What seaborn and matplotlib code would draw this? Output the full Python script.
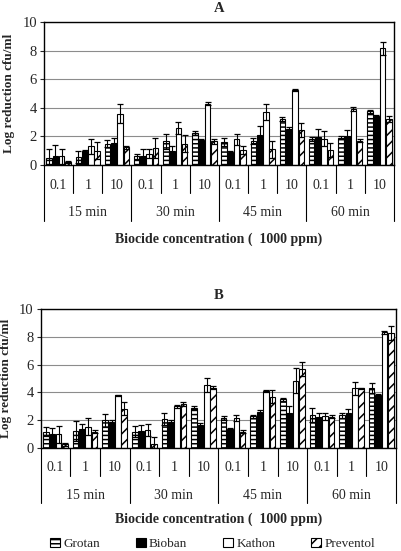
import matplotlib
matplotlib.use("Agg")
import matplotlib.pyplot as plt
import matplotlib.patches as mpatches
import pandas as pd
import seaborn as sns

times = ["15 min", "30 min", "45 min", "60 min"]
concs = ["0.1", "1", "10"]
biocides = ["Grotan", "Bioban", "Kathon", "Preventol"]

# panel A: log reduction, 12 values each (time x concentration)
a_grotan = [0.5, 0.55, 1.5, 0.6, 1.65, 2.25, 1.6, 1.7, 3.2, 1.8, 1.9, 3.75]
a_bioban = [0.6, 0.95, 1.55, 0.65, 0.95, 1.75, 0.9, 2.1, 2.55, 1.95, 2.05, 3.4]
a_kathon = [0.6, 1.3, 3.6, 0.8, 2.6, 4.3, 1.8, 3.7, 5.25, 1.85, 3.9, 8.15]
a_preventol = [0.2, 1.0, 1.25, 1.2, 1.5, 1.65, 1.05, 1.1, 2.45, 1.05, 1.7, 3.2]
a_grotan_err = [0.6, 0.4, 0.25, 0.15, 0.55, 0.15, 0.3, 0.2, 0.15, 0.15, 0.1, 0.1]
a_bioban_err = [0.8, 0.1, 0.35, 0.45, 0.4, 0.1, 0.1, 0.6, 0.1, 0.6, 0.4, 0.1]
a_kathon_err = [0.5, 0.5, 0.65, 0.3, 0.4, 0.1, 0.4, 0.55, 0.1, 0.5, 0.15, 0.45]
a_preventol_err = [0.05, 0.6, 0.1, 0.7, 0.6, 0.2, 0.3, 0.6, 0.5, 0.5, 0.1, 0.2]

# panel B
b_grotan = [1.2, 1.25, 2.0, 1.2, 2.1, 2.9, 2.15, 2.3, 3.5, 2.4, 2.35, 4.3]
b_bioban = [1.05, 1.35, 1.9, 1.25, 1.9, 1.7, 1.35, 2.6, 2.5, 2.25, 2.5, 3.8]
b_kathon = [1.0, 1.55, 3.8, 1.3, 3.0, 4.55, 2.15, 4.1, 4.85, 2.3, 4.3, 8.3]
b_preventol = [0.3, 1.2, 2.85, 0.3, 3.2, 4.35, 1.2, 3.7, 5.7, 2.25, 4.3, 8.25]
b_grotan_err = [0.35, 0.7, 0.45, 0.4, 0.4, 0.1, 0.15, 0.1, 0.1, 0.5, 0.2, 0.35]
b_bioban_err = [0.4, 0.4, 0.1, 0.4, 0.1, 0.1, 0.1, 0.15, 0.5, 0.3, 0.3, 0.1]
b_kathon_err = [0.6, 0.6, 0.05, 0.45, 0.1, 0.5, 0.2, 0.05, 0.9, 0.25, 0.45, 0.1]
b_preventol_err = [0.1, 0.1, 0.5, 0.5, 0.15, 0.1, 0.1, 0.45, 0.5, 0.1, 0.05, 0.5]

sns.set_theme(style="ticks")
plt.rcParams["font.family"] = ["Liberation Serif", "DejaVu Serif"]
plt.rcParams["hatch.linewidth"] = 1.1
plt.rcParams["hatch.color"] = "black"

faces = {"Grotan": "white", "Bioban": "black", "Kathon": "white", "Preventol": "white"}
hatches = {"Grotan": "----", "Bioban": "", "Kathon": "", "Preventol": "///"}
slots = [t + "|" + c for t in times for c in concs]


def make_df(values, errors):
    rows = []
    for b, vals, errs in zip(biocides, values, errors):
        for s, v, e in zip(slots, vals, errs):
            rows.append({"slot": s, "biocide": b, "value": v, "err": e})
    return pd.DataFrame(rows)


def draw_panel(ax, df, title, lab):
    sns.barplot(data=df, x="slot", y="value", hue="biocide", order=slots,
                hue_order=biocides, palette=faces, edgecolor="black",
                linewidth=0.8, width=0.86, gap=0.12, errorbar=None,
                legend=False, ax=ax)
    for cont, b in zip(ax.containers, biocides):
        sub = df[df["biocide"] == b]
        xs = [p.get_x() + p.get_width() / 2 for p in cont]
        for p in cont:
            p.set_hatch(hatches[b])
        ax.errorbar(xs, sub["value"], yerr=sub["err"], fmt="none",
                    ecolor="black", elinewidth=0.8, capsize=2.5, capthick=0.9)

    ax.set_ylim(0, 10)
    ax.set_yticks([0, 2, 4, 6, 8, 10])
    ax.set_xlim(-0.5, len(slots) - 0.5)
    ax.set_xticks([])
    ax.set_xlabel("")
    ax.yaxis.grid(True, color="#8c8c8c", lw=0.8)
    ax.set_axisbelow(True)
    for sp in ax.spines.values():
        sp.set_visible(True)
        sp.set_color("black")
        sp.set_linewidth(1.0)
    ax.tick_params(axis="y", length=3, width=0.8, labelsize=10.5, pad=2)
    ax.set_ylabel("Log reduction cfu/ml", fontsize=9.5, fontweight="bold",
                  labelpad=5)
    ax.set_title(title, fontsize=10.5, fontweight="bold", pad=7)

    tr = ax.get_xaxis_transform()
    for i, s in enumerate(slots):
        t, c = s.split("|")
        ax.text(i, -0.14, c, transform=tr, ha="center", va="center", fontsize=10)
    for k, t in enumerate(times):
        ax.text(3 * k + 1, -0.335, t, transform=tr, ha="center", va="center",
                fontsize=10)
    for i in range(len(slots) + 1):
        low = -0.39 if i % 3 == 0 else -0.195
        ax.plot([i - 0.5, i - 0.5], [0, low], transform=tr, color="black",
                lw=0.8, clip_on=False)
    ax.text(5.5, lab, "Biocide concentration (  1000 ppm)", transform=tr,
            ha="center", va="center", fontsize=10, fontweight="bold")


fig = plt.figure(figsize=(4.01, 5.51), dpi=100)
ax_a = fig.add_axes([0.1097, 0.7005, 0.8728, 0.2595])
ax_b = fig.add_axes([0.1015, 0.1864, 0.886, 0.2533])

df_a = make_df([a_grotan, a_bioban, a_kathon, a_preventol],
               [a_grotan_err, a_bioban_err, a_kathon_err, a_preventol_err])
df_b = make_df([b_grotan, b_bioban, b_kathon, b_preventol],
               [b_grotan_err, b_bioban_err, b_kathon_err, b_preventol_err])

draw_panel(ax_a, df_a, "A", -0.52)
draw_panel(ax_b, df_b, "B", -0.505)

handles = [mpatches.Patch(facecolor=faces[b], edgecolor="black", hatch=hatches[b],
                          linewidth=0.8) for b in biocides]
fig.legend(handles, biocides, loc="center", bbox_to_anchor=(0.53, 7 / 551),
           ncol=4, frameon=False, fontsize=9.5, handlelength=0.75,
           handleheight=0.75, handletextpad=0.25, columnspacing=2.7)

fig.savefig("out.png", dpi=100)
